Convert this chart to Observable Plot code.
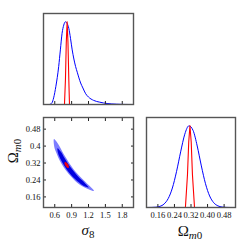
<!DOCTYPE html>
<html><head><meta charset="utf-8">
<script src="https://cdn.jsdelivr.net/npm/d3@7"></script>
<script src="https://cdn.jsdelivr.net/npm/@observablehq/plot@0.6"></script>
<style>
html,body{margin:0;padding:0;background:#fff;}
#chart{position:relative;width:249px;height:249px;overflow:hidden;background:#fff;}
#chart svg{position:absolute;left:0;top:0;}
.lab{position:absolute;font-family:"Liberation Serif","DejaVu Serif",serif;font-size:15px;line-height:1;white-space:nowrap;color:#111;transform:translate(-50%,-50%);}
.lab sub{font-size:11px;vertical-align:-3px;line-height:0;}
.rot{transform:translate(-50%,-50%) rotate(-90deg);}
</style></head><body><div id="chart"></div>
<script>
// tick values and labels
const sigma8Ticks = [0.6, 0.9, 1.2, 1.5, 1.8];
const sigma8TickLabels = ["0.6", "0.9", "1.2", "1.5", "1.8"];
const omegaTicks = [0.16, 0.24, 0.32, 0.40, 0.48];
const omegaTickLabelsY = ["0.16", "0.24", "0.32", "0.4", "0.48"];
const omegaTickLabelsX = ["0.16", "0.24", "0.32", "0.40", "0.48"];

// 1D marginal of sigma_8
const sigma8X    = [0.40,0.50,0.55,0.58,0.62,0.67,0.70,0.73,0.76,0.79,0.82,0.85,0.88,0.91,0.94,0.97,1.00,1.06,1.10,1.15,1.20,1.29,1.40,1.53,1.70,1.82,2.00];
const sigma8Blue = [0,0,0.02,0.08,0.22,0.46,0.66,0.86,0.96,1.00,0.98,0.92,0.80,0.66,0.55,0.46,0.39,0.26,0.20,0.13,0.09,0.05,0.028,0.012,0.004,0.001,0];
const sigma8RedX = [0.773,0.790,0.805,0.820,0.835,0.850,0.862];
const sigma8RedY = [0,0.30,0.75,1.00,0.75,0.30,0];

// 1D marginal of Omega_m0
const omegaX    = [0.105,0.11,0.13,0.15,0.17,0.19,0.21,0.23,0.25,0.27,0.29,0.31,0.33,0.35,0.37,0.39,0.41,0.43,0.45,0.47,0.49,0.51,0.535];
const omegaBlue = [0,0.0002,0.001,0.004,0.014,0.043,0.11,0.238,0.438,0.68,0.896,0.998,0.942,0.752,0.508,0.291,0.141,0.058,0.02,0.006,0.0015,0.0003,0];
const omegaRedX = [0.293,0.303,0.309,0.315,0.321,0.327,0.337];
const omegaRedY = [0,0.40,0.80,1.00,0.80,0.40,0];

// 2D contours (sigma_8, Omega_m0)
const outerSigma = [0.587,0.674,0.731,0.791,0.859,0.937,1.031,1.147,1.298,1.090,0.951,0.841,0.756,0.688,0.635,0.592];
const outerOmega = [0.433,0.404,0.376,0.348,0.319,0.290,0.261,0.230,0.188,0.210,0.239,0.270,0.301,0.332,0.364,0.396];
const innerSigma = [0.649,0.708,0.771,0.839,0.919,1.015,1.134,1.202,1.102,0.965,0.859,0.775,0.708,0.658];
const innerOmega = [0.390,0.373,0.345,0.316,0.287,0.256,0.226,0.205,0.214,0.243,0.273,0.305,0.335,0.367];
const redSigma = [0.846,0.852,0.835,0.804,0.779,0.772,0.790,0.821];
const redOmega = [0.297,0.304,0.315,0.323,0.324,0.318,0.307,0.298];

const zip = (xs, ys) => xs.map((x, i) => ({x, y: ys[i]}));
const fmt = (ticks, labels) => { const m = new Map(ticks.map((t, i) => [t, labels[i]])); return d => m.get(d) ?? ""; };
const none = () => "";
const FONT = "Liberation Serif, DejaVu Serif, serif";
const FRAME = "#555";
const TICK = "#222";
const base = {width: 249, height: 249, style: {background: "transparent", overflow: "visible"}};

const tl = Plot.plot({
  ...base,
  marginLeft: 43, marginRight: 116, marginTop: 13, marginBottom: 145,
  x: {domain: [0.4, 2.0], axis: null},
  y: {domain: [0, 1.1], axis: null},
  marks: [
    Plot.line(zip(sigma8X, sigma8Blue), {x: "x", y: "y", stroke: "#0000ff", strokeWidth: 1, curve: "monotone-x"}),
    Plot.line(zip(sigma8RedX, sigma8RedY), {x: "x", y: "y", stroke: "#ff0000", strokeWidth: 1.1}),
    Plot.axisX(sigma8Ticks, {anchor: "bottom", tickSize: -3, tickFormat: none, stroke: TICK, label: null}),
    Plot.frame({stroke: FRAME, strokeWidth: 1.4})
  ]
});

const bl = Plot.plot({
  ...base,
  marginLeft: 43, marginRight: 116, marginTop: 117, marginBottom: 42,
  x: {domain: [0.4, 2.0], axis: null},
  y: {domain: [0.11, 0.535], axis: null},
  marks: [
    Plot.line(zip(outerSigma, outerOmega), {x: "x", y: "y", fill: "#7d7dff", stroke: "none", curve: "catmull-rom-closed"}),
    Plot.line(zip(innerSigma, innerOmega), {x: "x", y: "y", fill: "#0000e0", stroke: "none", curve: "catmull-rom-closed"}),
    Plot.line(zip(redSigma, redOmega), {x: "x", y: "y", fill: "#ee0010", stroke: "none", curve: "catmull-rom-closed"}),
    Plot.axisX(sigma8Ticks, {anchor: "bottom", tickSize: -3, tickPadding: 7, tickFormat: fmt(sigma8Ticks, sigma8TickLabels), stroke: TICK, fill: "#111", fontSize: 8.5, fontFamily: FONT, label: null}),
    Plot.axisX(sigma8Ticks, {anchor: "top", tickSize: -3, tickFormat: none, stroke: TICK, label: null}),
    Plot.axisY(omegaTicks, {anchor: "left", tickSize: -3, tickPadding: 6, tickFormat: fmt(omegaTicks, omegaTickLabelsY), stroke: TICK, fill: "#111", fontSize: 8.5, fontFamily: FONT, label: null}),
    Plot.axisY(omegaTicks, {anchor: "right", tickSize: -3, tickFormat: none, stroke: TICK, label: null}),
    Plot.frame({stroke: FRAME, strokeWidth: 1.4})
  ]
});

const br = Plot.plot({
  ...base,
  marginLeft: 146, marginRight: 14, marginTop: 117, marginBottom: 42,
  x: {domain: [0.105, 0.535], axis: null},
  y: {domain: [0, 1.1], axis: null},
  marks: [
    Plot.line(zip(omegaX, omegaBlue), {x: "x", y: "y", stroke: "#0000ff", strokeWidth: 1, curve: "monotone-x"}),
    Plot.line(zip(omegaRedX, omegaRedY), {x: "x", y: "y", stroke: "#ff0000", strokeWidth: 1.1}),
    Plot.axisX(omegaTicks, {anchor: "bottom", tickSize: -3, tickPadding: 7, tickFormat: fmt(omegaTicks, omegaTickLabelsX), stroke: TICK, fill: "#111", fontSize: 8.5, fontFamily: FONT, label: null}),
    Plot.frame({stroke: FRAME, strokeWidth: 1.4})
  ]
});

const chart = document.getElementById("chart");
chart.append(tl, bl, br);

function label(html, x, y, cls) {
  const d = document.createElement("div");
  d.className = "lab" + (cls ? " " + cls : "");
  d.innerHTML = html;
  d.style.left = x + "px";
  d.style.top = y + "px";
  chart.append(d);
}
label('<i>σ</i><sub>8</sub>', 88, 230);
label('Ω<sub><i>m</i>0</sub>', 190, 231);
label('Ω<sub><i>m</i>0</sub>', 13, 151, "rot");
</script></body></html>
